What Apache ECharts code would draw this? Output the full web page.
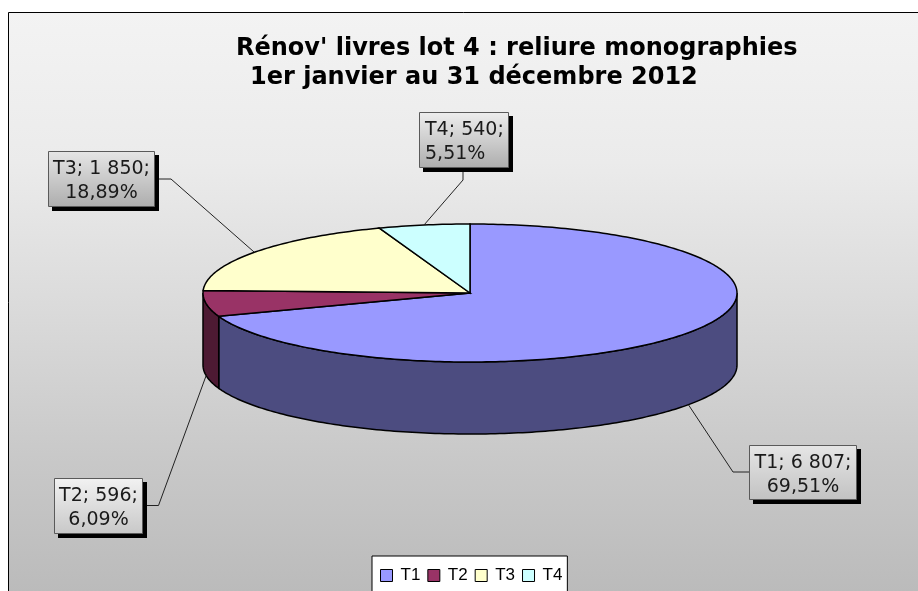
<!DOCTYPE html>
<html>
<head>
<meta charset="utf-8">
<style>html,body{margin:0;padding:0;background:#fff}#c{width:918px;height:591px}</style>
<script src="https://cdn.jsdelivr.net/npm/echarts@6/dist/echarts.min.js"></script>
</head>
<body>
<div id="c"></div>
<script>
// Data
const categories = ['T1', 'T2', 'T3', 'T4'];
const values = [6807, 596, 1850, 540];
const titleLines = ["Rénov' livres lot 4 : reliure monographies", "1er janvier au 31 décembre 2012"];

// Styles
const topColors = ['#9999ff', '#993366', '#ffffcc', '#ccffff'];
const sideColors = ['#4c4c80', '#4d1a33', '#808066', '#668080'];

// Pie geometry and label layout
const CX = 470, CY = 293, RX = 267, RY = 69, DEPTH = 72;
const boxes = [
  {x: 749, y: 445, w: 107, h: 54, c0: '#e6e6e6', c1: '#c2c2c2', elbow: [[749, 472], [733, 472]], align: 'center'},
  {x: 54,  y: 478, w: 88,  h: 55, c0: '#f2f2f2', c1: '#c8c8c8', elbow: [[142, 505.5], [158.5, 505.5]], align: 'center'},
  {x: 48,  y: 151, w: 106, h: 55, c0: '#e6e6e6', c1: '#adadad', elbow: [[154, 179], [171, 179]], align: 'center'},
  {x: 419, y: 112, w: 89,  h: 55, c0: '#eeeeee', c1: '#adadad', elbow: [[463, 172], [463, 180]], align: 'left'}
];

const total = values.reduce((a, b) => a + b, 0);
const fractions = [];
values.reduce((acc, v, i) => { fractions[i] = [acc / total, (acc + v) / total]; return acc + v; }, 0);

function pt(frac, dy) {
  const a = frac * 2 * Math.PI;
  return [CX + RX * Math.sin(a), CY - RY * Math.cos(a) + (dy || 0)];
}
function arc(f0, f1, dy) {
  const n = Math.max(2, Math.ceil((f1 - f0) * 360));
  const out = [];
  for (let k = 0; k <= n; k++) out.push(pt(f0 + (f1 - f0) * k / n, dy));
  return out;
}
function fmtThousands(v) {
  return String(v).replace(/\B(?=(\d{3})+$)/g, ' ');
}
function labelText(i) {
  const pct = (values[i] / total * 100).toFixed(2).replace('.', ',');
  return categories[i] + '; ' + fmtThousands(values[i]) + ';\n' + pct + '%';
}

function renderSlice(i) {
  return function () {
    const [f0, f1] = fractions[i];
    const children = [];
    const w0 = Math.max(f0, 0.25), w1 = Math.min(f1, 0.75);
    if (w1 > w0) {
      const up = arc(w0, w1, 0);
      const down = arc(w0, w1, DEPTH).reverse();
      children.push({type: 'polygon', shape: {points: up.concat(down)},
        style: {fill: sideColors[i], stroke: '#000', lineWidth: 1.5}});
    }
    children.push({type: 'polygon', shape: {points: [[CX, CY]].concat(arc(f0, f1, 0))},
      style: {fill: topColors[i], stroke: '#000', lineWidth: 1.5}});
    return {type: 'group', children};
  };
}

function renderLabel(i) {
  return function () {
    const b = boxes[i];
    const mid = (fractions[i][0] + fractions[i][1]) / 2;
    const anchor = pt(mid, mid > 0.25 && mid < 0.75 ? DEPTH : 0);
    const left = b.align === 'left';
    return {type: 'group', children: [
      {type: 'polyline', shape: {points: b.elbow.concat([anchor])},
        style: {fill: null, stroke: '#222', lineWidth: 1}},
      {type: 'rect', shape: {x: b.x + 4, y: b.y + 4, width: b.w + 1, height: b.h + 1}, style: {fill: '#000'}},
      {type: 'rect', shape: {x: b.x + 0.5, y: b.y + 0.5, width: b.w, height: b.h},
        style: {
          fill: new echarts.graphic.LinearGradient(0, 0, 0, 1, [{offset: 0, color: b.c0}, {offset: 1, color: b.c1}]),
          stroke: '#5a5a5a', lineWidth: 1
        }},
      {type: 'text', style: {
        x: left ? b.x + 6 : b.x + b.w / 2 + 0.5, y: b.y + b.h / 2 + 3, text: labelText(i),
        align: left ? 'left' : 'center', verticalAlign: 'middle',
        textAlign: left ? 'left' : 'center', textVerticalAlign: 'middle',
        font: '19px "DejaVu Sans"', lineHeight: 24, fill: '#1a1a1a'
      }}
    ]};
  };
}

const chart = echarts.init(document.getElementById('c'), null, {renderer: 'canvas'});
const series = categories.map((name, i) => ({
  type: 'custom', name, coordinateSystem: 'none', silent: true, animation: false,
  itemStyle: {color: topColors[i]}, z: 2,
  data: [[values[i]]], renderItem: renderSlice(i)
})).concat(categories.map((name, i) => ({
  type: 'custom', name: name + ' label', coordinateSystem: 'none', silent: true, animation: false, z: 3,
  data: [[values[i]]], renderItem: renderLabel(i)
})));

const titleStyle = {fontFamily: 'DejaVu Sans', fontWeight: 'bold', fontSize: 24, color: '#000'};
chart.setOption({
  animation: false,
  backgroundColor: '#ffffff',
  graphic: [{
    type: 'rect', z: -1, silent: true,
    shape: {x: 8.5, y: 12.5, width: 930, height: 600},
    style: {
      fill: new echarts.graphic.LinearGradient(0, 0, 0, 1, [
        {offset: 0, color: '#f3f3f3'}, {offset: 0.25, color: '#ebebeb'}, {offset: 0.5, color: '#dadada'},
        {offset: 0.75, color: '#c8c8c8'}, {offset: 0.965, color: '#bbbbbb'}, {offset: 1, color: '#bbbbbb'}]),
      stroke: '#000', lineWidth: 1
    }
  }],
  title: [
    {text: titleLines[0], left: 236, top: 37, textStyle: titleStyle, padding: 0},
    {text: titleLines[1], left: 250, top: 66, textStyle: titleStyle, padding: 0}
  ],
  legend: {
    left: 372, top: 556, orient: 'horizontal',
    backgroundColor: '#fff', borderColor: '#000', borderWidth: 1,
    padding: [11, 5, 30, 8], itemGap: 7, itemWidth: 12, itemHeight: 12,
    selectedMode: false,
    textStyle: {fontFamily: 'Liberation Sans', fontSize: 17, color: '#000', padding: [0, 0, 0, 3]},
    data: categories.map((name, i) => ({
      name, icon: 'rect', itemStyle: {color: topColors[i], borderColor: '#000', borderWidth: 1}
    }))
  },
  series
});
</script>
</body>
</html>
